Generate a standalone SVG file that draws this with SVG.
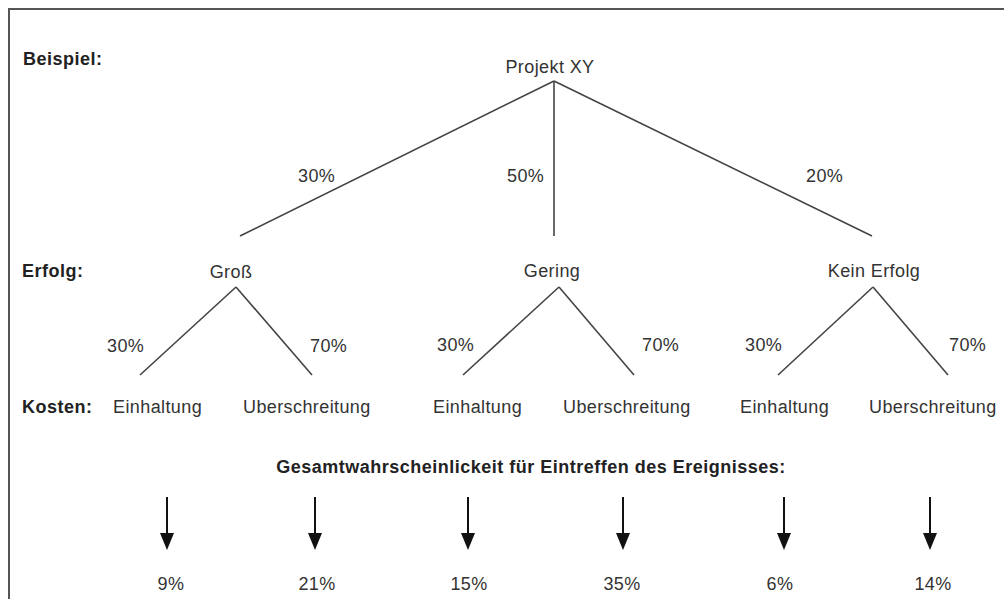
<svg xmlns="http://www.w3.org/2000/svg" width="1004" height="599" viewBox="0 0 1004 599">
<style>
text{font-family:"Liberation Sans",Arial,sans-serif;font-size:18px;fill:#333;letter-spacing:0.4px}
.b{font-weight:bold;fill:#222;letter-spacing:0.5px}
.m{text-anchor:middle}
.ln{stroke:#444;stroke-width:1.6;fill:none}
.ar{stroke:#111;stroke-width:2;fill:none}
</style>
<defs>
<marker id="ah" markerWidth="17" markerHeight="14" refX="0" refY="7" orient="auto" markerUnits="userSpaceOnUse" viewBox="0 0 17 14">
<path d="M0,0 L17,7 L0,14 Z" fill="#111"/>
</marker>
</defs>
<rect x="9" y="9" width="1010" height="610" fill="#fff" stroke="#555" stroke-width="2"/>
<g id="labels">
<text class="b" x="23" y="65">Beispiel:</text>
<text class="b" x="22" y="277">Erfolg:</text>
<text class="b" x="22" y="413">Kosten:</text>
<text class="b m" x="531" y="473">Gesamtwahrscheinlickeit für Eintreffen des Ereignisses:</text>
</g>
<g id="connectors">
<line class="ln" x1="554" y1="81" x2="240" y2="236"/>
<line class="ln" x1="554" y1="81" x2="554" y2="236"/>
<line class="ln" x1="554" y1="81" x2="872" y2="236"/>
<line class="ln" x1="236" y1="287" x2="140" y2="375"/>
<line class="ln" x1="236" y1="287" x2="312" y2="375"/>
<line class="ln" x1="559" y1="287" x2="463" y2="375"/>
<line class="ln" x1="559" y1="287" x2="634" y2="375"/>
<line class="ln" x1="873" y1="287" x2="778" y2="375"/>
<line class="ln" x1="873" y1="287" x2="948" y2="375"/>
<text x="298" y="182">30%</text>
<text x="507" y="182">50%</text>
<text x="806" y="182">20%</text>
<text x="107" y="352">30%</text>
<text x="310" y="352">70%</text>
<text x="437" y="351">30%</text>
<text x="642" y="351">70%</text>
<text x="745" y="351">30%</text>
<text x="949" y="351">70%</text>
<line class="ar" x1="167" y1="497" x2="167" y2="533" marker-end="url(#ah)"/>
<line class="ar" x1="315" y1="497" x2="315" y2="533" marker-end="url(#ah)"/>
<line class="ar" x1="468" y1="497" x2="468" y2="533" marker-end="url(#ah)"/>
<line class="ar" x1="623" y1="497" x2="623" y2="533" marker-end="url(#ah)"/>
<line class="ar" x1="784" y1="497" x2="784" y2="533" marker-end="url(#ah)"/>
<line class="ar" x1="930" y1="497" x2="930" y2="533" marker-end="url(#ah)"/>
</g>
<g id="n-root"><text class="m" x="550" y="73">Projekt XY</text></g>
<g id="n-gross"><text class="m" x="231" y="278">Groß</text></g>
<g id="n-gering"><text class="m" x="552" y="277">Gering</text></g>
<g id="n-kein"><text class="m" x="874" y="277">Kein Erfolg</text></g>
<g id="n-k1"><text x="113" y="413">Einhaltung</text></g>
<g id="n-k2"><text x="243" y="413">Uberschreitung</text></g>
<g id="n-k3"><text x="433" y="413">Einhaltung</text></g>
<g id="n-k4"><text x="563" y="413">Uberschreitung</text></g>
<g id="n-k5"><text x="740" y="413">Einhaltung</text></g>
<g id="n-k6"><text x="869" y="413">Uberschreitung</text></g>
<g id="n-r1"><text class="m" x="171" y="590">9%</text></g>
<g id="n-r2"><text class="m" x="317" y="590">21%</text></g>
<g id="n-r3"><text class="m" x="469" y="590">15%</text></g>
<g id="n-r4"><text class="m" x="622" y="590">35%</text></g>
<g id="n-r5"><text class="m" x="780" y="590">6%</text></g>
<g id="n-r6"><text class="m" x="933" y="590">14%</text></g>
</svg>
